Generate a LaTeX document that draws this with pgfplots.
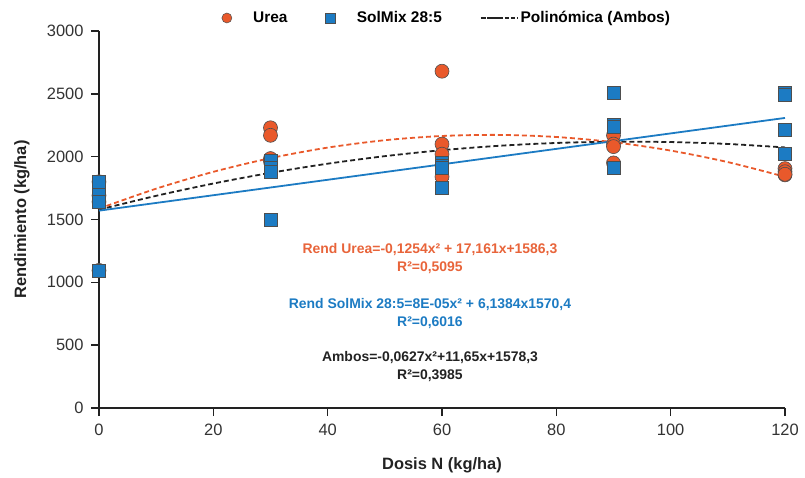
\documentclass[border=0pt]{standalone}
\usepackage{pgfplots}
\pgfplotsset{compat=1.18}
\usepackage{fontspec}
\setmainfont{Liberation Sans}
\definecolor{cUrea}{HTML}{E9592B}
\definecolor{cUreaTxt}{HTML}{E8643A}
\definecolor{cSol}{HTML}{1C7BC3}
\definecolor{cAx}{HTML}{222222}
\definecolor{cTick}{HTML}{333333}

\begin{document}
\begin{tikzpicture}
\useasboundingbox (-99bp,-70bp) rectangle (706bp,408bp);
\begin{axis}[
  scale only axis, width=686bp, height=377bp,
  xmin=0, xmax=120, ymin=0, ymax=3000,
  xtick={0,20,...,120}, ytick={0,500,...,3000},
  axis x line=bottom, axis y line=left,
  axis line style={-, cAx, line width=1.4bp},
  tick align=outside, major tick length=8bp,
  tick style={cAx, line width=1.4bp},
  ticklabel style={font=\fontsize{16.5}{18}\selectfont, text=cTick},
  xticklabel style={yshift=-4bp},
  yticklabel style={xshift=-4bp},
  /pgf/number format/assume math mode=true,
  /pgf/number format/1000 sep={},
  xlabel={\bfseries Dosis N (kg/ha)},
  ylabel={\bfseries Rendimiento (kg/ha)},
  label style={font=\fontsize{16.5}{18}\selectfont, text=cAx},
  xlabel style={at={(axis description cs:0.5,-0.151)}, anchor=center},
  ylabel style={at={(axis description cs:-0.1122,0.5)}, anchor=center, rotate=0},
  clip=false,
  legend style={at={(0.507,1.0345)}, anchor=center, draw=none, fill=none,
    legend columns=3, font=\fontsize{15.5}{17}\selectfont\bfseries,
    /tikz/every odd column/.append style={column sep=19bp},
    /tikz/every even column/.append style={column sep=36bp}},
  legend cell align=left,
]
% Urea
\addplot[only marks, mark=*, mark size=7bp, mark options={fill=cUrea, draw=cAx!80, line width=0.6bp},
  legend image code/.code={\draw[fill=cUrea, draw=cAx!80, line width=0.5bp] (0bp,0bp) circle (5bp);}]
coordinates {(0,1800) (0,1690) (0,1640) (0,1095)
 (30,2230) (30,2170) (30,1985) (30,1960)
 (60,2680) (60,2100) (60,2020) (60,1840)
 (90,2170) (90,2100) (90,2080) (90,1950)
 (120,1905) (120,1880) (120,1855) (120,1860)};
% SolMix 28:5
\addplot[only marks, mark=square*, mark size=6.5bp, mark options={fill=cSol, draw=cAx!80, line width=0.6bp},
  legend image code/.code={\draw[fill=cSol, draw=cAx!80, line width=0.5bp] (-5bp,-5bp) rectangle (5bp,5bp);}]
coordinates {(0,1800) (0,1695) (0,1640) (0,1095)
 (30,1970) (30,1915) (30,1880) (30,1500)
 (60,1950) (60,1930) (60,1915) (60,1750)
 (90,2505) (90,2250) (90,2240) (90,1915)
 (120,2510) (120,2490) (120,2210) (120,2020)};
% Ambos trend
\addplot[cAx, dash pattern=on 5bp off 3bp, line width=1.8bp, smooth,
  legend image code/.code={\draw[overlay, cAx, line width=1.6bp, dash pattern=on 4bp off 2bp] (-3bp,0bp) -- (34bp,0bp); \path (-3bp,0bp) -- (15bp,0bp);}]
coordinates {(0,1578.3) (10,1688.5) (20,1786.2) (30,1871.4) (40,1944.0) (50,2004.1) (60,2051.6)
 (70,2086.6) (80,2109.0) (90,2118.9) (100,2116.3) (110,2101.1) (120,2073.4)};
% Urea trend
\addplot[cUrea, dash pattern=on 5bp off 3bp, line width=1.8bp, smooth, forget plot]
coordinates {(0,1586.3) (10,1745.4) (20,1879.4) (30,1988.3) (40,2072.1) (50,2130.9) (60,2164.5)
 (70,2173.1) (80,2156.6) (90,2115.1) (100,2048.4) (110,1956.7) (120,1839.9)};
% SolMix trend
\addplot[cSol, line width=1.8bp, smooth, forget plot]
coordinates {(0,1570.4) (40,1816.0) (80,2062.0) (120,2308.2)};
\legend{Urea, SolMix 28:5, Polinómica (Ambos)}
\node[font=\fontsize{14}{16}\selectfont\bfseries, text=cUreaTxt, align=center] at (axis cs:57.9,1190)
  {Rend Urea=-0,1254x² + 17,161x+1586,3\\[2bp] R²=0,5095};
\node[font=\fontsize{14}{16}\selectfont\bfseries, text=cSol, align=center] at (axis cs:57.9,755)
  {Rend SolMix 28:5=8E-05x² + 6,1384x1570,4\\[2bp] R²=0,6016};
\node[font=\fontsize{14}{16}\selectfont\bfseries, text=cAx, align=center] at (axis cs:57.9,327)
  {Ambos=-0,0627x²+11,65x+1578,3\\[2bp] R²=0,3985};
\end{axis}
\end{tikzpicture}
\end{document}
